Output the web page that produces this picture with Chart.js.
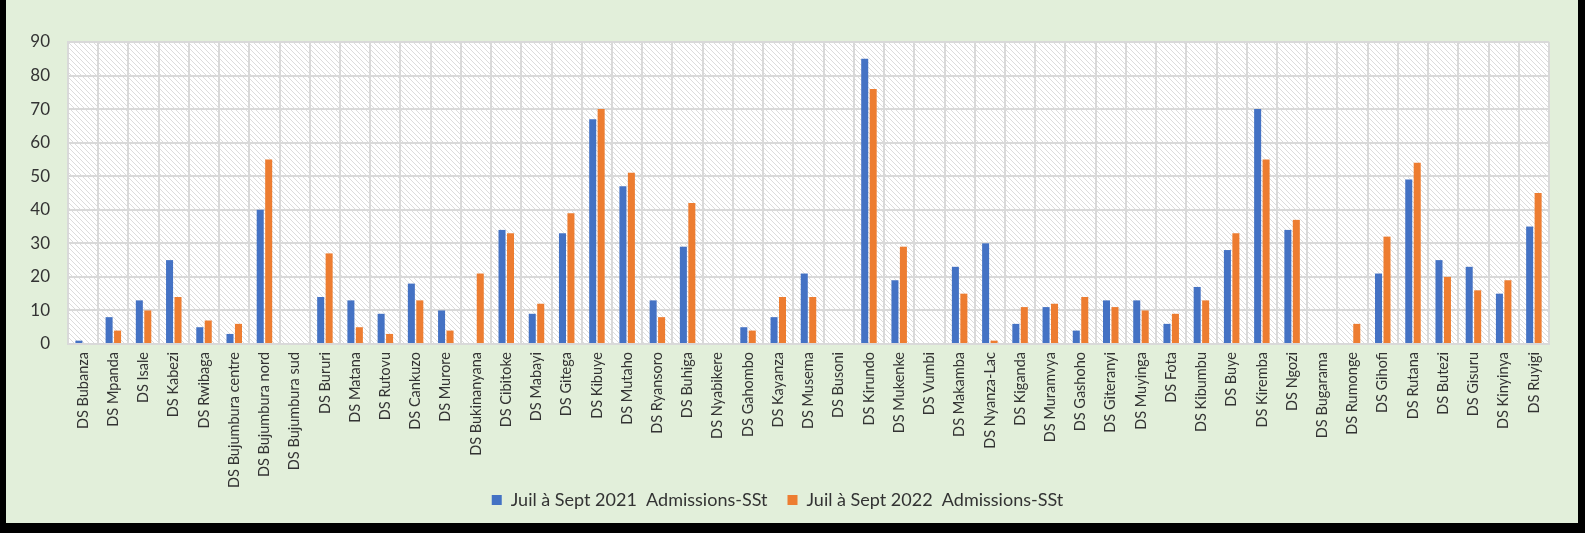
<!DOCTYPE html>
<html>
<head>
<meta charset="utf-8">
<script src="https://cdn.jsdelivr.net/npm/chart.js@4"></script>
<style>
  body { margin: 0; background: #000; }
  #cadre { position: absolute; left: 6px; top: 0; width: 1572px; height: 523px; background: #e2efda; }
</style>
</head>
<body>
<div id="cadre"><canvas id="admissionsChart" width="1572" height="523"></canvas></div>
<script>
// districts sanitaires
const districts = ['DS Bubanza', 'DS Mpanda', 'DS Isale', 'DS Kabezi', 'DS Rwibaga', 'DS Bujumbura centre',
    'DS Bujumbura nord', 'DS Bujumbura sud', 'DS Bururi', 'DS Matana', 'DS Rutovu', 'DS Cankuzo', 'DS Murore',
    'DS Bukinanyana', 'DS Cibitoke', 'DS Mabayi', 'DS Gitega', 'DS Kibuye', 'DS Mutaho', 'DS Ryansoro',
    'DS Buhiga', 'DS Nyabikere', 'DS Gahombo', 'DS Kayanza', 'DS Musema', 'DS Busoni', 'DS Kirundo',
    'DS Mukenke', 'DS Vumbi', 'DS Makamba', 'DS Nyanza-Lac', 'DS Kiganda', 'DS Muramvya', 'DS Gashoho',
    'DS Giteranyi', 'DS Muyinga', 'DS Fota', 'DS Kibumbu', 'DS Buye', 'DS Kiremba', 'DS Ngozi',
    'DS Bugarama', 'DS Rumonge', 'DS Gihofi', 'DS Rutana', 'DS Butezi', 'DS Gisuru', 'DS Kinyinya', 'DS Ruyigi'];

const admissions2021 = [1, 8, 13, 25, 5, 3, 40, 0, 14, 13, 9, 18, 10, 0, 34, 9, 33, 67, 47, 13, 29, 0, 5, 8, 21, 0,
    85, 19, 0, 23, 30, 6, 11, 4, 13, 13, 6, 17, 28, 70, 34, 0, 0, 21, 49, 25, 23, 15, 35];
const admissions2022 = [0, 4, 10, 14, 7, 6, 55, 0, 27, 5, 3, 13, 4, 21, 33, 12, 39, 70, 51, 8, 42, 0, 4, 14, 14, 0,
    76, 29, 0, 15, 1, 11, 12, 14, 11, 10, 9, 13, 33, 55, 37, 0, 6, 32, 54, 20, 16, 19, 45];

const serie2021 = 'Juil à Sept 2021  Admissions-SSt';
const serie2022 = 'Juil à Sept 2022  Admissions-SSt';
const yTicks = [0, 10, 20, 30, 40, 50, 60, 70, 80, 90];

// fond hachuré de la zone du graphique
const fondHachure = {
    id: 'fondHachure',
    beforeDraw(chart) {
        const { ctx, chartArea: a } = chart;
        const tuile = document.createElement('canvas');
        tuile.width = 5; tuile.height = 5;
        const t = tuile.getContext('2d');
        t.fillStyle = '#ffffff';
        t.fillRect(0, 0, 5, 5);
        t.strokeStyle = '#dcdcdc';
        t.lineWidth = 1;
        t.beginPath();
        t.moveTo(-1, -1); t.lineTo(6, 6);
        t.moveTo(-1, 4); t.lineTo(1, 6);
        t.moveTo(4, -1); t.lineTo(6, 1);
        t.stroke();
        ctx.save();
        ctx.fillStyle = ctx.createPattern(tuile, 'repeat');
        ctx.fillRect(a.left, a.top, a.width, a.height);
        ctx.restore();
    }
};

const texte = '#333333';
const grille = '#d9d9d9';

new Chart(document.getElementById('admissionsChart'), {
    type: 'bar',
    data: {
        labels: districts,
        datasets: [{
            label: serie2021,
            data: admissions2021,
            backgroundColor: '#4472c4',
            categoryPercentage: 0.56,
            barPercentage: 0.83
        }, {
            label: serie2022,
            data: admissions2022,
            backgroundColor: '#ed7d31',
            categoryPercentage: 0.56,
            barPercentage: 0.83
        }]
    },
    options: {
        responsive: false,
        devicePixelRatio: 1,
        animation: false,
        layout: { padding: { top: 42, right: 29, left: 0, bottom: 4 } },
        plugins: {
            tooltip: { enabled: false },
            legend: {
                position: 'bottom',
                labels: {
                    color: texte,
                    font: { family: 'Lato', size: 18 },
                    boxWidth: 10,
                    boxHeight: 10,
                    padding: 20
                }
            }
        },
        scales: {
            x: {
                grid: { color: grille, lineWidth: 2, drawTicks: false },
                border: { color: grille, width: 2 },
                ticks: {
                    color: texte,
                    font: { family: 'Lato', size: 14.5 },
                    minRotation: 90,
                    maxRotation: 90,
                    autoSkip: false,
                    padding: 8
                },
                afterFit(scale) {
                    scale.height = 127;
                    // les étiquettes longues débordent sous l'axe, pas de découpage
                    scale._computeLabelArea = () => undefined;
                }
            },
            y: {
                min: 0,
                max: 90,
                grid: { color: grille, lineWidth: 2, drawTicks: false },
                border: { color: grille, width: 2 },
                afterBuildTicks(scale) { scale.ticks = yTicks.map(v => ({ value: v })); },
                ticks: {
                    color: texte,
                    font: { family: 'Lato', size: 17 },
                    padding: 18
                },
                afterFit(scale) { scale.width = 62; }
            }
        }
    },
    plugins: [fondHachure]
});
</script>
</body>
</html>
